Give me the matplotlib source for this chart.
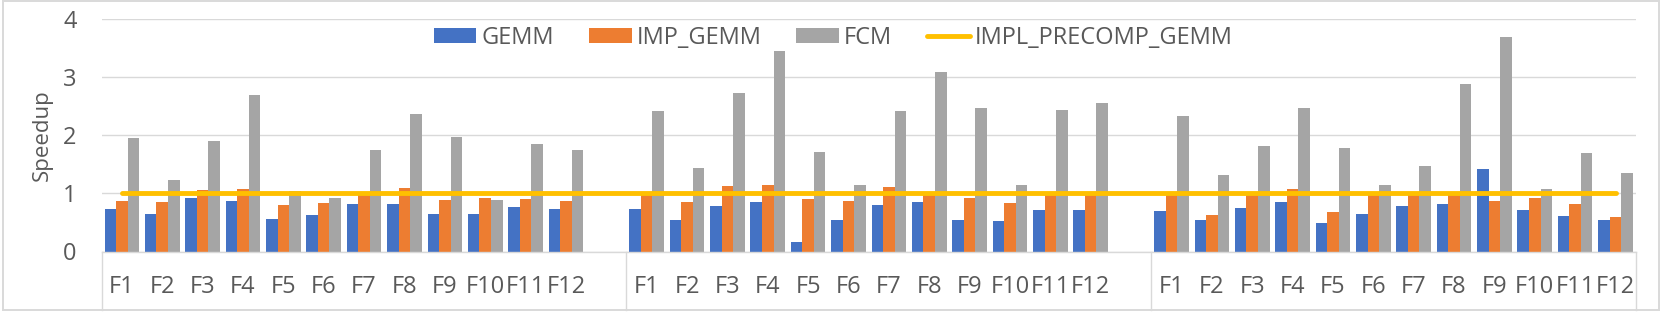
import matplotlib
matplotlib.use("Agg")
import matplotlib.pyplot as plt
import numpy as np
from matplotlib.patches import Rectangle
from matplotlib.lines import Line2D

plt.rcParams['font.family'] = ['Open Sans', 'DejaVu Sans']

# three runs of the same 12 functions
functions = ["F1", "F2", "F3", "F4", "F5", "F6", "F7", "F8", "F9", "F10", "F11", "F12"]
n_groups = 3

gemm = [0.74, 0.64, 0.92, 0.87, 0.56, 0.63, 0.81, 0.81, 0.65, 0.65, 0.76, 0.73,
        0.74, 0.55, 0.78, 0.85, 0.17, 0.55, 0.80, 0.85, 0.55, 0.52, 0.72, 0.72,
        0.69, 0.55, 0.75, 0.85, 0.49, 0.65, 0.78, 0.81, 1.42, 0.72, 0.62, 0.55]
imp_gemm = [0.87, 0.86, 1.06, 1.08, 0.80, 0.83, 1.03, 1.10, 0.88, 0.92, 0.90, 0.87,
            0.98, 0.86, 1.12, 1.15, 0.90, 0.87, 1.11, 0.98, 0.92, 0.83, 0.98, 0.98,
            0.97, 0.63, 0.97, 1.08, 0.68, 0.98, 0.98, 0.98, 0.87, 0.92, 0.82, 0.59]
fcm = [1.96, 1.23, 1.91, 2.70, 1.05, 0.92, 1.74, 2.37, 1.98, 0.88, 1.86, 1.74,
       2.42, 1.44, 2.73, 3.46, 1.71, 1.15, 2.42, 3.10, 2.48, 1.14, 2.44, 2.55,
       2.33, 1.32, 1.81, 2.47, 1.78, 1.15, 1.48, 2.88, 3.69, 1.07, 1.69, 1.35]
# baseline: implicit precomp gemm (drawn as a line over every slot)
impl_precomp = [1.0] * 38

C_GEMM = "#4472C4"
C_IMP = "#ED7D31"
C_FCM = "#A5A5A5"
C_LINE = "#FFC000"
C_GRID = "#D9D9D9"
C_TEXT = "#595959"

# slot positions: each group has 12 bars plus one empty slot after it (not the last)
slot = len(functions) + 1
pos = np.array([g * slot + i for g in range(n_groups) for i in range(len(functions))])
n_slots = n_groups * slot - 1
labels = [""] * n_slots
for g in range(n_groups):
    for i, f in enumerate(functions):
        labels[g * slot + i] = f

W, H = 1661, 313
fig = plt.figure(figsize=(W / 100, H / 100), dpi=100)
ax = fig.add_axes([101.7 / W, 61.5 / H, 1534 / W, 232.2 / H])

w = 1 / 3.5
b1 = ax.bar(pos - w, gemm, w, color=C_GEMM, label="GEMM", zorder=2)
b2 = ax.bar(pos, imp_gemm, w, color=C_IMP, label="IMP_GEMM", zorder=2)
b3 = ax.bar(pos + w, fcm, w, color=C_FCM, label="FCM", zorder=2)
ln, = ax.plot(np.arange(n_slots), impl_precomp[:n_slots], color=C_LINE, lw=3.5,
              solid_capstyle="round", label="IMPL_PRECOMP_GEMM", zorder=3)

ax.set_xlim(-0.5, n_slots - 0.5)
ax.set_ylim(0, 4)
ax.set_yticks([0, 1, 2, 3, 4])
ax.set_xticks(np.arange(n_slots))
ax.set_xticklabels(labels)
ax.tick_params(axis="x", length=0, pad=17, labelsize=17, labelcolor=C_TEXT)
ax.tick_params(axis="y", length=0, pad=18, labelsize=17, labelcolor=C_TEXT)
ax.grid(axis="y", color=C_GRID, lw=1.0, zorder=0)
ax.set_axisbelow(True)
for s in ["left", "right", "top"]:
    ax.spines[s].set_visible(False)
ax.spines["bottom"].set_color(C_GRID)
ax.spines["bottom"].set_linewidth(1.0)

# category box separators below the axis
trans = ax.get_xaxis_transform()
y_box = -(310 - 251.5) / 232.2
for x in [-0.5, slot - 0.5, 2 * slot - 0.5, n_slots - 0.5]:
    ax.add_line(Line2D([x, x], [0, y_box], transform=trans, color=C_GRID,
                       lw=1.0, clip_on=False))

fig.text(42 / W, 1 - 135.4 / H, "Speedup", rotation=90, ha="center", va="center",
         fontsize=16, color=C_TEXT)

fig.legend([b1, b2, b3, ln], ["GEMM", "IMP_GEMM", "FCM", "IMPL_PRECOMP_GEMM"],
           loc="center", bbox_to_anchor=(833 / W, 1 - 38 / H), ncol=4,
           frameon=False, fontsize=17, handlelength=1.82, handleheight=0.6,
           handletextpad=0.2, columnspacing=1.48, borderpad=0, labelcolor=C_TEXT)

# chart border
fig.patches.append(Rectangle((3 / W, 3 / H), 1656 / W, 309 / H, transform=fig.transFigure,
                             fill=False, edgecolor=C_GRID, lw=1.4))

fig.savefig("out.png", dpi=100)
